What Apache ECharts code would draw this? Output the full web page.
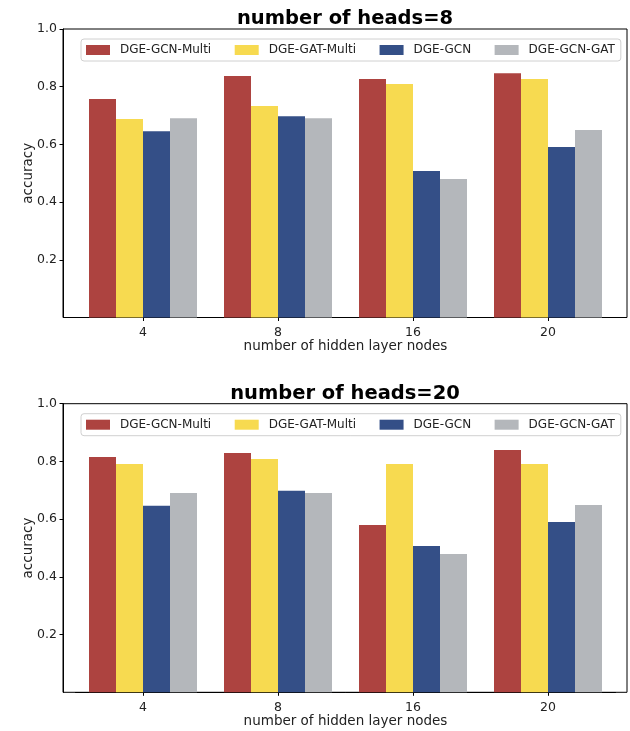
<!DOCTYPE html>
<html><head><meta charset="utf-8">
<script src="https://cdn.jsdelivr.net/npm/echarts@6/dist/echarts.min.js"></script>
<style>html,body{margin:0;padding:0;background:#fff}#c{width:630px;height:731px}</style>
</head><body><div id="c"></div>
<script>
const categories = ['4', '8', '16', '20'];
const seriesNames = ['DGE-GCN-Multi', 'DGE-GAT-Multi', 'DGE-GCN', 'DGE-GCN-GAT'];
const titles = ['number of heads=8', 'number of heads=20'];
// heads = 8
const h8_gcnMulti = [0.757, 0.837, 0.827, 0.847];
const h8_gatMulti = [0.688, 0.733, 0.809, 0.827];
const h8_gcn      = [0.646, 0.698, 0.508, 0.591];
const h8_gcnGat   = [0.691, 0.691, 0.480, 0.650];
// heads = 20
const h20_gcnMulti = [0.815, 0.829, 0.580, 0.840];
const h20_gatMulti = [0.791, 0.808, 0.791, 0.791];
const h20_gcn      = [0.646, 0.698, 0.507, 0.590];
const h20_gcnGat   = [0.691, 0.691, 0.479, 0.649];
const yTicks = [0.2, 0.4, 0.6, 0.8, 1.0];

const colors = ['#ad4340', '#f7da50', '#344f87', '#b4b7bb'];
const FONT = 'DejaVu Sans';
const panels = [
  {top: 29, bottom: 317.5, data: [h8_gcnMulti, h8_gatMulti, h8_gcn, h8_gcnGat]},
  {top: 403.7, bottom: 692.3, data: [h20_gcnMulti, h20_gatMulti, h20_gcn, h20_gcnGat]}
];
const option = {
  animation: false,
  backgroundColor: '#fff',
  textStyle: {fontFamily: FONT},
  title: [], legend: [], grid: [], xAxis: [], yAxis: [], series: []
};
panels.forEach((p, i) => {
  const h = p.bottom - p.top;
  option.title.push({
    text: titles[i], left: 340, textAlign: 'center', top: p.top - 25,
    textStyle: {fontFamily: FONT, fontWeight: 'bold', fontSize: 19.5, color: '#000'}
  });
  option.legend.push({
    data: seriesNames, left: 81, top: p.top + 10, orient: 'horizontal',
    itemWidth: 24, itemHeight: 10, itemGap: 23.5,
    padding: [5, 6, 5, 5],
    borderColor: '#d0d0d0', borderWidth: 1, borderRadius: 3,
    backgroundColor: 'rgba(255,255,255,0.8)',
    textStyle: {fontFamily: FONT, fontSize: 12, color: '#222', padding: [0, 0, 0, 5]},
    icon: 'rect', selectedMode: false
  });
  // frame grid
  option.grid.push({left: 63, width: 564, top: p.top, height: h, show: true,
    borderColor: '#000', borderWidth: 1, backgroundColor: 'transparent'});
  option.xAxis.push({gridIndex: 2 * i, type: 'value', show: false});
  option.yAxis.push({gridIndex: 2 * i, type: 'value', show: false});
  // data grid
  option.grid.push({left: 75.5, width: 540, top: p.top, height: h});
  option.xAxis.push({
    gridIndex: 2 * i + 1, type: 'category', data: categories,
    name: 'number of hidden layer nodes', nameLocation: 'middle', nameGap: 22, nameMoveOverlap: false,
    nameTextStyle: {fontFamily: FONT, fontSize: 13.5, color: '#222'},
    axisLine: {show: true, lineStyle: {color: '#000', width: 1}},
    axisTick: {show: true, alignWithLabel: true, length: 3.5, lineStyle: {color: '#000'}},
    axisLabel: {fontFamily: FONT, fontSize: 12.5, color: '#222', margin: 9},
    splitLine: {show: false}
  });
  option.yAxis.push({
    gridIndex: 2 * i + 1, type: 'value', min: 0, max: 1, interval: 0.2, offset: 12.5,
    name: 'accuracy', nameLocation: 'middle', nameGap: 28, nameMoveOverlap: false,
    nameTextStyle: {fontFamily: FONT, fontSize: 13.5, color: '#222'},
    axisLine: {show: true, lineStyle: {color: '#000', width: 1}},
    axisTick: {show: true, length: 3.5, lineStyle: {color: '#000'}, customValues: yTicks},
    axisLabel: {fontFamily: FONT, fontSize: 12.5, color: '#222', margin: 6,
      customValues: yTicks, formatter: v => v.toFixed(1)},
    splitLine: {show: false}
  });
  p.data.forEach((d, k) => {
    option.series.push({
      type: 'bar', name: seriesNames[k], xAxisIndex: 2 * i + 1, yAxisIndex: 2 * i + 1,
      data: d, barWidth: 27, barGap: '0%', itemStyle: {color: colors[k]}
    });
  });
});
const chart = echarts.init(document.getElementById('c'), null, {renderer: 'canvas'});
chart.setOption(option);
</script></body></html>
